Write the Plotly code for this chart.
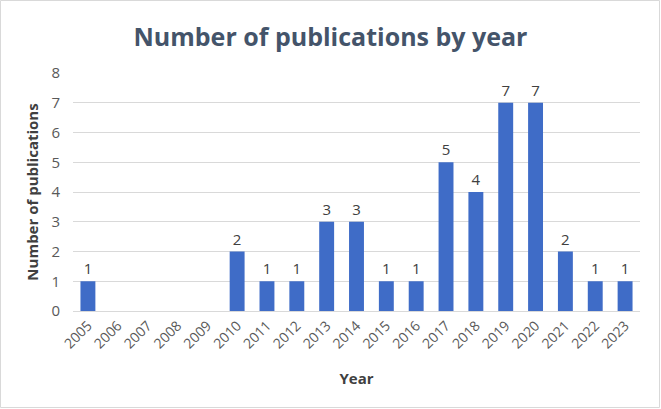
import plotly.graph_objects as go

years = [str(y) for y in range(2005, 2024)]
counts = [1, 0, 0, 0, 0, 2, 1, 1, 3, 3, 1, 1, 5, 4, 7, 7, 2, 1, 1]
labels = [str(c) if c > 0 else "" for c in counts]

W, H = 661, 409
ml, mr, mt, mb = 73, 21, 73, 98

fig = go.Figure()
fig.add_trace(go.Bar(
    x=years, y=counts, text=labels, textposition="outside",
    textfont=dict(size=15, color="#404040"),
    marker=dict(color="#3F6CC7", line=dict(width=0)),
    cliponaxis=False,
))

fig.update_layout(
    width=W, height=H,
    margin=dict(l=ml, r=mr, t=mt, b=mb, autoexpand=False),
    paper_bgcolor="white", plot_bgcolor="white",
    font=dict(family="Open Sans, Lato, sans-serif", color="#595959"),
    title=dict(text="<b>Number of publications by year</b>", x=0.5, xanchor="center",
               y=1 - 37 / H, yanchor="middle",
               font=dict(size=25, color="#44546A", family="Open Sans, sans-serif")),
    bargap=0.5,
    showlegend=False,
    xaxis=dict(
        type="category", tickangle=-45, tickfont=dict(size=14, color="#595959"),
        showline=True, linecolor="#D9D9D9", linewidth=1, ticks="", automargin=False,
        title=dict(text="<b>Year</b>", font=dict(size=15, color="#404040"), standoff=22),
    ),
    yaxis=dict(
        range=[0, 8], dtick=1, tickfont=dict(size=15, color="#595959"),
        showgrid=True, gridcolor="#D9D9D9", gridwidth=1, zeroline=False,
        ticks="", ticklabelstandoff=12, automargin=False,
        title=dict(text="<b>Number of publications</b>", font=dict(size=15, color="#404040"), standoff=9),
    ),
    shapes=[dict(type="rect", xref="paper", yref="paper",
                 x0=-(ml - 0.5) / (W - ml - mr), x1=1 + (mr - 1.5) / (W - ml - mr),
                 y0=-(mb - 1.5) / (H - mt - mb), y1=1 + (mt - 0.5) / (H - mt - mb),
                 line=dict(color="#D9D9D9", width=1), layer="below")],
)

fig.write_html("out.html", config={"displayModeBar": False})

with open("out.html", "r", encoding="utf-8") as f:
    html = f.read()
html = html.replace("<head>", "<head><style>html,body{margin:0;padding:0;overflow:hidden;}</style>", 1)
with open("out.html", "w", encoding="utf-8") as f:
    f.write(html)
